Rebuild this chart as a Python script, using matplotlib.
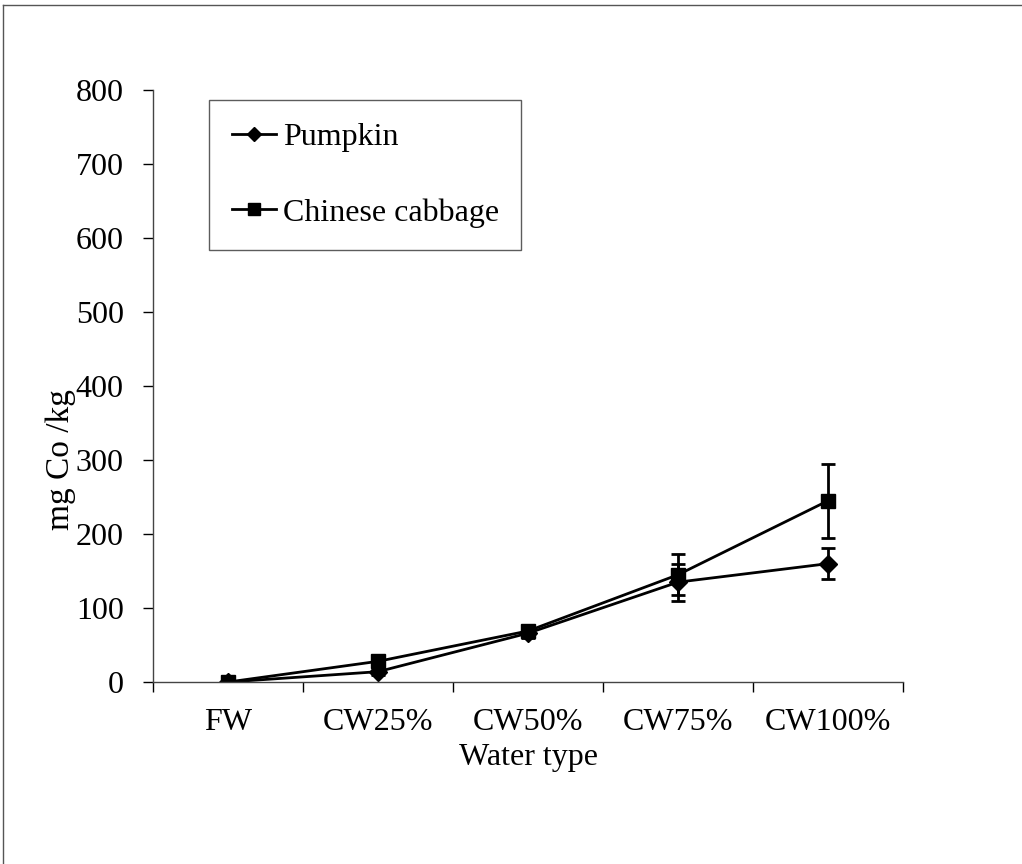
import matplotlib.pyplot as plt
from matplotlib.lines import Line2D
import numpy as np

plt.rcParams['font.family'] = ['Liberation Serif', 'DejaVu Serif']

water_types = ['FW', 'CW25%', 'CW50%', 'CW75%', 'CW100%']
pumpkin = [0, 14, 66, 135, 160]
pumpkin_err = [2, 5, 6, 25, 21]
cabbage = [0, 28, 69, 145, 245]
cabbage_err = [2, 6, 6, 28, 50]

fig = plt.figure(figsize=(10.22, 8.64), dpi=100)
ax = fig.add_axes([0.1497, 0.2106, 0.7339, 0.6852])

x = np.arange(len(water_types))
err_style = dict(fmt='none', ecolor='black', capsize=5, capthick=2, elinewidth=2)
ax.errorbar(x, pumpkin, yerr=pumpkin_err, **err_style)
ax.errorbar(x, cabbage, yerr=cabbage_err, **err_style)
ax.plot(x, pumpkin, color='black', lw=2, marker='D', ms=9, label='Pumpkin')
ax.plot(x, cabbage, color='black', lw=2, marker='s', ms=10.5, label='Chinese cabbage')

ax.set_xlim(-0.5, len(water_types) - 0.5)
ax.set_ylim(0, 800)
ax.set_yticks(np.arange(0, 801, 100))
ax.set_xticks(x)
ax.set_xticklabels(water_types, fontsize=23)
ax.set_xticks(np.arange(-0.5, len(water_types)), minor=True)
ax.tick_params(axis='x', which='major', length=0, pad=19)
ax.tick_params(axis='x', which='minor', length=7, width=1, direction='out')
ax.tick_params(axis='y', length=7, width=1, direction='out', labelsize=23, pad=14)

for side in ['top', 'right']:
    ax.spines[side].set_visible(False)
for side in ['left', 'bottom']:
    ax.spines[side].set_color('#444444')
    ax.spines[side].set_linewidth(1)

ax.set_xlabel('Water type', fontsize=23, labelpad=4)
ax.set_ylabel('mg Co /kg', fontsize=24)
ax.yaxis.set_label_coords(-0.102, 0.375)

leg = ax.legend(loc='upper left', bbox_to_anchor=(0.075, 0.983), borderaxespad=0,
                fontsize=23, frameon=True, fancybox=False, edgecolor='#333333',
                labelspacing=1.45, handlelength=1.4, handletextpad=0.2,
                borderpad=0.7, markerscale=0.8)
leg.get_frame().set_linewidth(1)

# outer frame lines along the top and left edges
fig.add_artist(Line2D([0.003, 1.0], [0.994, 0.994], color='#555555', lw=1,
                      transform=fig.transFigure))
fig.add_artist(Line2D([0.003, 0.003], [0.0, 0.994], color='#555555', lw=1,
                      transform=fig.transFigure))

fig.savefig('out.png', dpi=100)
